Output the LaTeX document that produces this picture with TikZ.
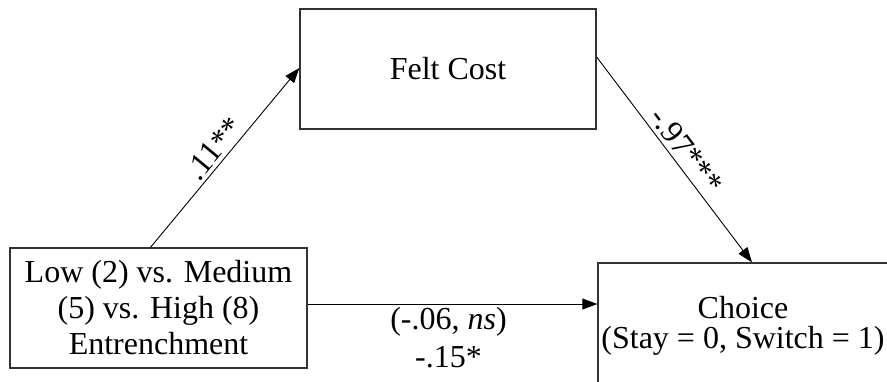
\documentclass[tikz,border=0pt]{standalone}
\usepackage{fontspec}
\setmainfont{Liberation Serif}
\usetikzlibrary{arrows.meta}
\begin{document}
\begin{tikzpicture}[x=1pt,y=-1pt,
  boxnode/.style={draw=black!80, line width=1.3pt, align=center, inner sep=0pt},
  conn/.style={line width=0.9pt, -{Triangle[length=15pt,width=11pt]}},
  lbl/.style={font=\fontsize{32}{38}\selectfont, inner sep=3pt, align=center}]
\useasboundingbox (0,0) rectangle (887,381);
\begin{scope}
\clip (0,0) rectangle (887,381);
\node[boxnode, minimum width=296pt, minimum height=120pt, font=\fontsize{32}{38}\selectfont] (med) at (448,69) {Felt Cost};
\node[boxnode, minimum width=297pt, minimum height=120pt, font=\fontsize{32}{36}\selectfont] (iv) at (158.5,308) {Low (2) vs. Medium\\(5) vs. High (8)\\Entrenchment};
\node[boxnode, minimum width=290pt, minimum height=126pt, font=\fontsize{32}{30}\selectfont] (dv) at (743,326) {Choice\\(Stay = 0, Switch = 1)};
\end{scope}
\draw[conn] ([xshift=-8pt]iv.north) -- node[lbl, midway, above, sloped] (a) {.11**} ([yshift=1pt]med.west);
\draw[conn] ([yshift=12pt]med.east) -- node[lbl, midway, above, sloped, inner sep=4pt] (b) {-.97***} ([xshift=9pt]dv.north);
\draw[conn] ([yshift=4pt]iv.east) -- node[lbl, midway, below, xshift=-4pt] (c) {(-.06, \textit{ns})\\-.15*} ([yshift=4pt]iv.east -| dv.west);
\end{tikzpicture}
\end{document}
